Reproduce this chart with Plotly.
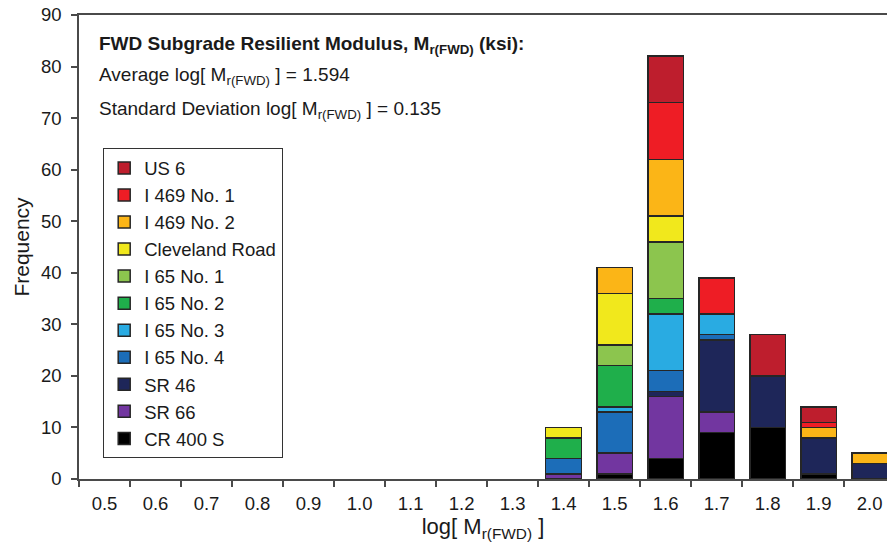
import plotly.graph_objects as go

categories = ["0.5", "0.6", "0.7", "0.8", "0.9", "1.0", "1.1", "1.2", "1.3",
              "1.4", "1.5", "1.6", "1.7", "1.8", "1.9", "2.0"]

# series values (bottom of stack first)
cr400s      = [0, 0, 0, 0, 0, 0, 0, 0, 0, 0, 1, 4, 9, 10, 1, 0]
sr66        = [0, 0, 0, 0, 0, 0, 0, 0, 0, 1, 4, 12, 4, 0, 0, 0]
sr46        = [0, 0, 0, 0, 0, 0, 0, 0, 0, 0, 0, 1, 14, 10, 7, 3]
i65_no4     = [0, 0, 0, 0, 0, 0, 0, 0, 0, 3, 8, 4, 1, 0, 0, 0]
i65_no3     = [0, 0, 0, 0, 0, 0, 0, 0, 0, 0, 1, 11, 4, 0, 0, 0]
i65_no2     = [0, 0, 0, 0, 0, 0, 0, 0, 0, 4, 8, 3, 0, 0, 0, 0]
i65_no1     = [0, 0, 0, 0, 0, 0, 0, 0, 0, 0, 4, 11, 0, 0, 0, 0]
cleveland   = [0, 0, 0, 0, 0, 0, 0, 0, 0, 2, 10, 5, 0, 0, 0, 0]
i469_no2    = [0, 0, 0, 0, 0, 0, 0, 0, 0, 0, 5, 11, 0, 0, 2, 2]
i469_no1    = [0, 0, 0, 0, 0, 0, 0, 0, 0, 0, 0, 11, 7, 0, 1, 0]
us6         = [0, 0, 0, 0, 0, 0, 0, 0, 0, 0, 0, 9, 0, 8, 3, 0]

series_names = ["CR 400 S", "SR 66", "SR 46", "I 65 No. 4", "I 65 No. 3",
                "I 65 No. 2", "I 65 No. 1", "Cleveland Road", "I 469 No. 2",
                "I 469 No. 1", "US 6"]
series_values = [cr400s, sr66, sr46, i65_no4, i65_no3, i65_no2, i65_no1,
                 cleveland, i469_no2, i469_no1, us6]
series_colors = ["#000000", "#7236A0", "#1E2659", "#1C6DB8", "#29ABE2",
                 "#1FAF4B", "#8CC54E", "#F1E81C", "#FBB517", "#EE1D25", "#BE1E2D"]

avg_text = "Average log[ M<sub>r(FWD)</sub> ] = 1.594"
sd_text = "Standard Deviation log[ M<sub>r(FWD)</sub> ] = 0.135"
title_text = "<b>FWD Subgrade Resilient Modulus, M<sub>r(FWD)</sub> (ksi):</b>"

FONT = "Liberation Sans, Arial, sans-serif"
TXT = "#1a1a1a"

fig = go.Figure()
n = len(series_names)
for i, (name, vals, col) in enumerate(zip(series_names, series_values, series_colors)):
    fig.add_trace(go.Bar(
        x=categories,
        y=[v if v else None for v in vals],
        name=name,
        legendgroup=name,
        legendrank=n - i,
        marker=dict(color=col, line=dict(color="#262626", width=1.5)),
        width=0.7,
    ))

axis_color = "#4a4a4a"
fig.update_layout(
    barmode="stack",
    width=887, height=554,
    margin=dict(l=79, r=0, t=15, b=75),
    paper_bgcolor="white", plot_bgcolor="white",
    font=dict(family=FONT, color=TXT, size=18),
    showlegend=True,
    legend=dict(
        x=0.0297, y=0.713, xanchor="left", yanchor="top",
        bordercolor="#333333", borderwidth=1.2, bgcolor="white",
        traceorder="grouped", tracegroupgap=0,
        font=dict(family=FONT, size=18.5, color=TXT),
        itemwidth=30,
    ),
    xaxis=dict(
        type="category",
        range=[-0.5, 15.34],
        showline=True, linecolor=axis_color, linewidth=1.5, mirror=True,
        ticks="outside", tickson="boundaries", ticklen=6, tickwidth=1.5, tickcolor=axis_color,
        tickfont=dict(family=FONT, size=18.5, color=TXT),
        ticklabelstandoff=7,
        showgrid=False,
        title=dict(text="log[ M<sub>r(FWD)</sub> ]", font=dict(family=FONT, size=22, color=TXT), standoff=6),
    ),
    yaxis=dict(
        range=[0, 90], dtick=10,
        showline=True, linecolor=axis_color, linewidth=1.5,
        ticks="outside", ticklen=6, tickwidth=1.5, tickcolor=axis_color,
        tickfont=dict(family=FONT, size=18.5, color=TXT),
        ticklabelstandoff=6,
        showgrid=False, zeroline=False,
        title=dict(text="Frequency", font=dict(family=FONT, size=21, color=TXT), standoff=6),
    ),
)

for txt, yy in [(title_text, 0.935), (avg_text, 0.8685), (sd_text, 0.795)]:
    fig.add_annotation(
        x=0.022, y=yy, xref="paper", yref="paper", xanchor="left", yanchor="middle",
        text=txt, showarrow=False, align="left",
        font=dict(family=FONT, size=19, color=TXT),
    )

fig.write_html("out.html")
